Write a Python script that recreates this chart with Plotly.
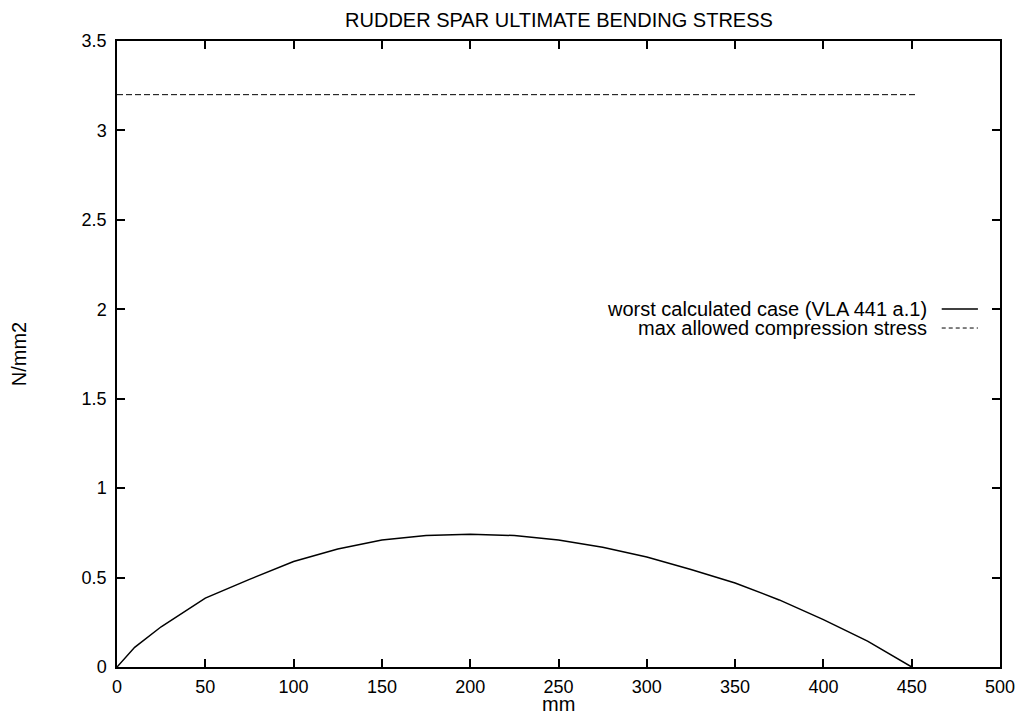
import plotly.graph_objects as go

# Data
position_mm = [0, 10, 25, 50, 75, 100, 125, 150, 175, 200, 225, 250, 275, 300, 325, 350, 375, 400, 425, 450]
stress_worst = [0.0, 0.11, 0.225, 0.385, 0.49, 0.59, 0.66, 0.71, 0.735, 0.742, 0.735, 0.71, 0.67, 0.615,
                0.545, 0.47, 0.375, 0.265, 0.145, 0.0]
allowed_x = [0, 453]
allowed_stress = [3.2, 3.2]

series_names = ["worst calculated case (VLA 441 a.1)", "max allowed compression stress"]
x_ticks = [0, 50, 100, 150, 200, 250, 300, 350, 400, 450, 500]
y_ticks = [0, 0.5, 1, 1.5, 2, 2.5, 3, 3.5]
y_tick_labels = ["0", "0.5", "1", "1.5", "2", "2.5", "3", "3.5"]

FONT = "Liberation Sans, Arial, Helvetica, sans-serif"

fig = go.Figure()
fig.add_trace(go.Scatter(x=position_mm, y=stress_worst, mode="lines",
                         line=dict(color="black", width=1.5), name=series_names[0],
                         showlegend=False))
fig.add_trace(go.Scatter(x=allowed_x, y=allowed_stress, mode="lines",
                         line=dict(color="black", width=1, dash="6px,3px"), name=series_names[1],
                         showlegend=False))

axis_common = dict(showline=True, linecolor="black", linewidth=1.5, mirror="allticks",
                   ticks="inside", ticklen=8, tickwidth=1.5, tickcolor="black",
                   showgrid=False, zeroline=False, automargin=False,
                   tickfont=dict(family=FONT, size=18, color="black"))

fig.update_xaxes(range=[0, 500], tickvals=x_ticks, ticklabelstandoff=3, **axis_common)
fig.update_yaxes(range=[0, 3.5], tickvals=y_ticks, ticktext=y_tick_labels, ticklabelstandoff=5,
                 **axis_common,
                 title=dict(text="N/mm2", font=dict(family=FONT, size=20, color="black"), standoff=52))

# x-axis title placed like gnuplot (close under the tick labels)
fig.add_annotation(x=0.5, y=0, xref="paper", yref="paper", text="mm", showarrow=False,
                   xanchor="center", yanchor="middle", yshift=-37,
                   font=dict(family=FONT, size=20, color="black"))

# gnuplot-style legend: text on the left, line sample on the right
legend_y = [0.572, 0.5415]
dashes = ["solid", "4px,3px"]
for i, name in enumerate(series_names):
    fig.add_annotation(x=0.920, y=legend_y[i], xref="paper", yref="paper", text=name,
                       showarrow=False, xanchor="right", yanchor="middle",
                       font=dict(family=FONT, size=20, color="black"))
    fig.add_shape(type="line", xref="paper", yref="paper", x0=0.934, x1=0.975,
                  y0=legend_y[i], y1=legend_y[i],
                  line=dict(color="black", width=1.5 if i == 0 else 1, dash=dashes[i]))

fig.update_layout(
    width=1019, height=710,
    margin=dict(l=109, r=27, t=33, b=51),
    paper_bgcolor="white", plot_bgcolor="white",
    title=dict(text="RUDDER SPAR ULTIMATE BENDING STRESS", x=0.5407, xanchor="center",
               y=0.983, yanchor="middle",
               font=dict(family=FONT, size=20, color="black")),
    showlegend=False,
)

fig.write_html("out.html")
